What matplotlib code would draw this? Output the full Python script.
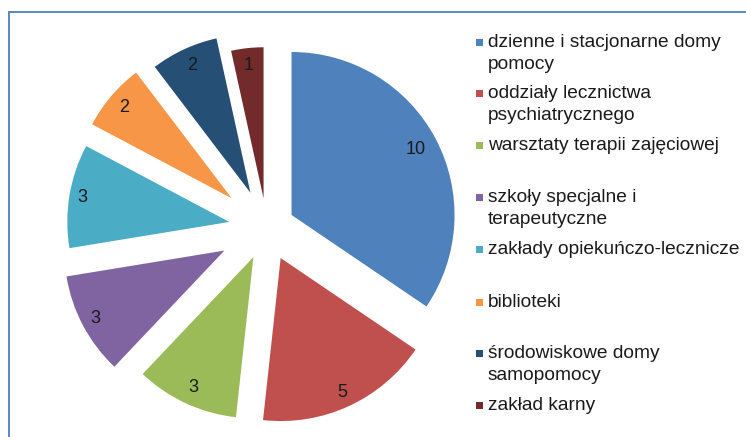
import matplotlib.pyplot as plt
import matplotlib.patches as mpatches
import numpy as np

plt.rcParams['font.family'] = ['Liberation Sans', 'DejaVu Sans']

categories = [
    "dzienne i stacjonarne domy\npomocy",
    "oddziały lecznictwa\npsychiatrycznego",
    "warsztaty terapii zajęciowej",
    "szkoły specjalne i\nterapeutyczne",
    "zakłady opiekuńczo-lecznicze",
    "biblioteki",
    "środowiskowe domy\nsamopomocy",
    "zakład karny",
]
values = [10, 5, 3, 3, 3, 2, 2, 1]
colors = ['#4F81BD', '#C0504D', '#9BBB59', '#8064A2',
          '#4BACC6', '#F79646', '#264F75', '#722A2B']

# slice geometry as drawn in the original (pixels)
explode_px = [28, 33, 32, 48, 38, 46, 39, 30]
radius_px = [163, 163, 161, 160, 162, 158, 158, 151]
label_px = [140, 148, 144, 146, 149, 141, 140, 134]
# legend rows: pixel y (from top) of the first text line centre
legend_y = [42, 93, 145, 197, 249, 302, 353, 405]
line_step = 21.7

W, H = 746, 437
fig = plt.figure(figsize=(W / 100, H / 100), dpi=100)

# chart frame (only top and left edge are inside the crop)
frame = mpatches.Rectangle((8.5 / W, -0.1), 1.0, 1 - 12.5 / H + 0.1,
                           transform=fig.transFigure, fill=False,
                           edgecolor='#4A7EC4', linewidth=1.3)
fig.patches.append(frame)

unit = 163.0
cx, cy = 266.8, 228.1
lim = 1.35
side = 2 * lim * unit
ax = fig.add_axes([(cx - side / 2) / W, (H - cy - side / 2) / H, side / W, side / H])

wedges, _ = ax.pie(values, colors=colors, startangle=90, counterclock=False,
                   explode=[e / unit for e in explode_px], radius=1.0,
                   wedgeprops=dict(linewidth=0))
ax.set_xlim(-lim, lim)
ax.set_ylim(-lim, lim)
ax.set_aspect('equal')
ax.axis('off')

for w, v, rp, lp in zip(wedges, values, radius_px, label_px):
    w.set_radius(rp / unit)
    ang = np.deg2rad((w.theta1 + w.theta2) / 2)
    x = w.center[0] + lp / unit * np.cos(ang)
    y = w.center[1] + lp / unit * np.sin(ang)
    ax.text(x, y, str(v), ha='center', va='center', fontsize=13, color='#1a1a1a')

# legend drawn line by line to keep Excel's uneven spacing
for lab, col, ly in zip(categories, colors, legend_y):
    fig.patches.append(mpatches.Rectangle((476 / W, 1 - (ly + 3.5) / H), 7 / W, 7 / H,
                                          transform=fig.transFigure,
                                          facecolor=col, edgecolor='none'))
    for k, line in enumerate(lab.split('\n')):
        base = ly + k * line_step + 5
        fig.text(488 / W, 1 - base / H, line, ha='left', va='baseline',
                 fontsize=13.8, color='#1a1a1a')

fig.savefig('out.png', dpi=100)
